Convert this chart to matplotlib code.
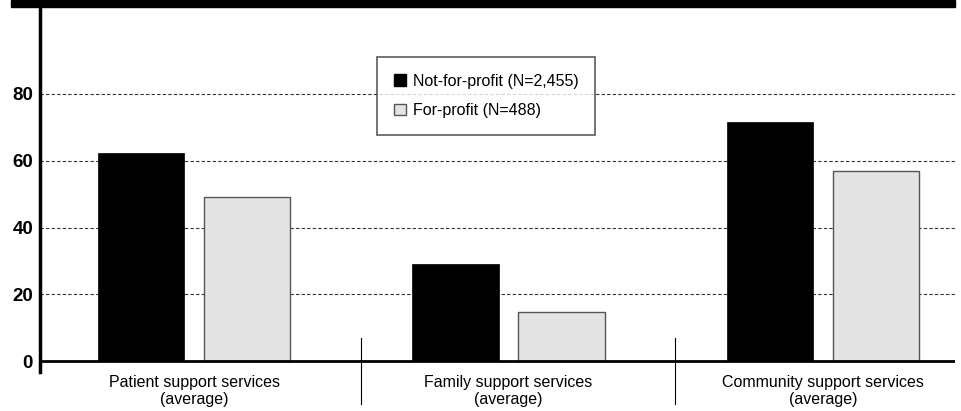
import numpy as np
import matplotlib
matplotlib.use('Agg')
import matplotlib.pyplot as plt
from matplotlib.patches import Patch, Rectangle
from matplotlib.lines import Line2D

plt.rcParams['font.family'] = ['Liberation Sans', 'DejaVu Sans']

categories = ['Patient support services\n(average)',
              'Family support services\n(average)',
              'Community support services\n(average)']
not_for_profit = [62.3, 29.0, 71.6]
for_profit = [49.1, 14.7, 56.9]
series_names = ['Not-for-profit (N=2,455)', 'For-profit (N=488)']
yticks = [0, 20, 40, 60, 80]

W, H = 961, 411
fig = plt.figure(figsize=(W / 100, H / 100), dpi=100)
ax = fig.add_axes([40 / W, 1 - 372 / H, 915 / W, 365 / H])

x = np.arange(len(categories))
bw = 0.275
ax.bar(x - 0.168, not_for_profit, bw, color='black', edgecolor='black', linewidth=0.5, zorder=3)
ax.bar(x + 0.168, for_profit, bw, color='#e4e4e4', edgecolor='#555555', linewidth=1.0, zorder=3)

ax.set_xlim(-0.49, 2.42)
ax.set_ylim(-3.2, 106)

# dashed gridlines
for v in yticks[1:]:
    ax.axhline(v, color='#333333', lw=0.8, ls=(0, (3, 2)), zorder=1)
ax.axhline(0, color='black', lw=2, zorder=4)

for s in ['top', 'right', 'bottom']:
    ax.spines[s].set_visible(False)
ax.spines['left'].set_linewidth(2.5)
ax.spines['left'].set_color('black')

ax.set_yticks(yticks)
ax.set_yticklabels([str(v) for v in yticks], fontsize=13.5, fontweight='bold')
ax.tick_params(axis='y', length=0, pad=5)

ax.set_xticks(x)
ax.set_xticklabels(categories, fontsize=11.5, linespacing=1.2)
ax.tick_params(axis='x', length=0, pad=2)

# group separators
for sx in [0.5, 1.5]:
    ax.add_line(Line2D([sx + 0.03, sx + 0.03], [7, -12.8], color='black', lw=0.8, clip_on=False))

# black band at top
fig.patches.append(Rectangle((11 / W, 1 - 7 / H), 944 / W, 7 / H,
                             transform=fig.transFigure, color='black'))

handles = [Patch(facecolor='black', edgecolor='black'),
           Patch(facecolor='#e4e4e4', edgecolor='#555555')]
leg = fig.legend(handles, series_names, loc='upper left',
                 bbox_to_anchor=(377 / W, 1 - 57 / H), borderaxespad=0,
                 fontsize=11.5, fancybox=False, frameon=True,
                 handlelength=0.75, handleheight=0.75, handletextpad=0.45,
                 borderpad=1.05, labelspacing=0.9)
leg.get_frame().set_edgecolor('#333333')
leg.get_frame().set_linewidth(1.2)

fig.savefig('out.png', dpi=100)
